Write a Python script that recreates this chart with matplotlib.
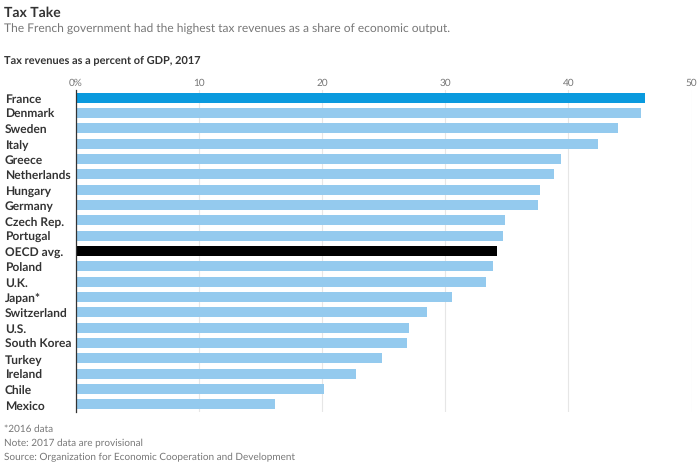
import matplotlib
matplotlib.use("Agg")
import matplotlib.pyplot as plt
from matplotlib.transforms import ScaledTranslation

countries = ["France", "Denmark", "Sweden", "Italy", "Greece", "Netherlands", "Hungary",
             "Germany", "Czech Rep.", "Portugal", "OECD avg.", "Poland", "U.K.", "Japan*",
             "Switzerland", "U.S.", "South Korea", "Turkey", "Ireland", "Chile", "Mexico"]
values = [46.2, 45.9, 44.0, 42.4, 39.4, 38.8, 37.7, 37.5, 34.9, 34.7, 34.2, 33.9, 33.3,
          30.6, 28.5, 27.1, 26.9, 24.9, 22.8, 20.2, 16.2]
xticks = [0, 10, 20, 30, 40, 50]
xticklabels = ["0%", "10", "20", "30", "40", "50"]
highlight = {"France": "#0a9ade", "OECD avg.": "#000000"}
base_color = "#94caee"

title = "Tax Take"
subtitle = "The French government had the highest tax revenues as a share of economic output."
chart_title = "Tax revenues as a percent of GDP, 2017"
notes = ["*2016 data", "Note: 2017 data are provisional",
         "Source: Organization for Economic Cooperation and Development"]

W, H = 700, 473
plt.rcParams["font.family"] = ["Lato", "DejaVu Sans"]
plt.rcParams["text.hinting"] = "no_hinting"
plt.rcParams["text.hinting_factor"] = 1
fig = plt.figure(figsize=(W / 100, H / 100), dpi=100)
L, R, T, B = 75.5, 691.5, 90, 411.5
ax = fig.add_axes([L / W, 1 - B / H, (R - L) / W, (B - T) / H])

colors = [highlight.get(c, base_color) for c in countries]
ypos = list(range(len(countries)))
ax.barh(ypos, values, height=0.65, color=colors, zorder=2)
ax.set_xlim(0, 50)
ax.set_ylim(20.47, -0.49)

ax.xaxis.tick_top()
ax.set_xticks(xticks)
ax.set_xticklabels(xticklabels, fontsize=7.2, color="#777777")
ax.tick_params(axis="x", length=0, pad=1.5)
ax.grid(axis="x", color="#e6e6e6", linewidth=0.8, zorder=1)
ax.set_axisbelow(True)
for s in ["top", "right", "bottom"]:
    ax.spines[s].set_visible(False)
ax.spines["left"].set_color("#333333")
ax.spines["left"].set_linewidth(0.9)
ax.spines["left"].set_zorder(3)

ax.set_yticks(ypos)
ax.set_yticklabels(countries, fontsize=8.8, fontweight="bold", color="#333333", ha="left")
ax.tick_params(axis="y", length=0, pad=(L - 5) * 0.72)
offset = ScaledTranslation(0, -1 / 100, fig.dpi_scale_trans)
for lab in ax.get_yticklabels():
    lab.set_transform(lab.get_transform() + offset)

def t(x, y, s, **kw):
    fig.text(x / W, 1 - y / H, s, va="center", ha="left", **kw)

t(4, 13, title, fontsize=9.9, fontweight="bold", color="#333333")
t(4, 29, subtitle, fontsize=8.5, color="#777777")
t(4, 60, chart_title, fontsize=8.15, fontweight="bold", color="#333333")
for y, n in zip([429, 443, 457], notes):
    t(4, y, n, fontsize=7.0, color="#777777")

fig.savefig("out.png", dpi=100)
